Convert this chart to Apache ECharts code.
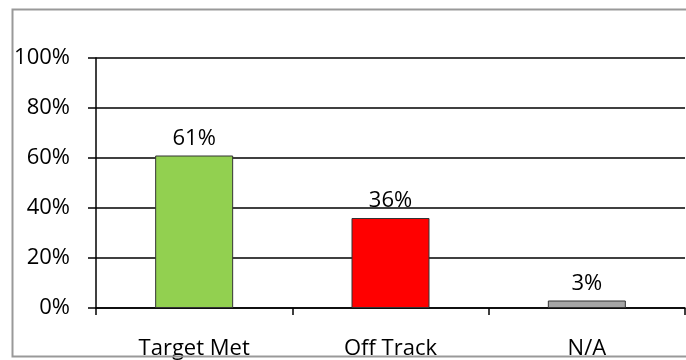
<!DOCTYPE html>
<html>
<head>
<meta charset="utf-8">
<script src="https://cdn.jsdelivr.net/npm/echarts@6/dist/echarts.min.js"></script>
<style>
  html, body { margin: 0; padding: 0; background: #fff; }
  #chart { width: 686px; height: 360px; }
</style>
</head>
<body>
<div id="chart"></div>
<script>
// Share of items by status
const categories = ['Target Met', 'Off Track', 'N/A'];
const values = [61, 36, 3];
const barColors = ['#92D050', '#FF0000', '#A6A6A6'];
const yTicks = [0, 20, 40, 60, 80, 100];

const chart = echarts.init(document.getElementById('chart'));
const font = 'Open Sans, Liberation Sans, sans-serif';
const fs = 22;

chart.setOption({
  animation: false,
  backgroundColor: '#fff',
  grid: { left: 96, right: 1, top: 58, bottom: 51 },
  xAxis: {
    type: 'category',
    data: categories,
    axisLine: { lineStyle: { color: '#000', width: 1.5 } },
    axisTick: { show: true, length: 7, lineStyle: { color: '#000', width: 1.5 } },
    axisLabel: { color: '#000', fontSize: fs, fontFamily: font, margin: 30 }
  },
  yAxis: {
    type: 'value',
    min: yTicks[0],
    max: yTicks[yTicks.length - 1],
    interval: 20,
    axisLine: { show: true, lineStyle: { color: '#000', width: 1.5 } },
    axisTick: { show: true, length: 8, lineStyle: { color: '#000', width: 1.5 } },
    splitLine: { lineStyle: { color: '#000', width: 1.5 } },
    axisLabel: { color: '#000', fontSize: fs, fontFamily: font, margin: 26, formatter: '{value}%' }
  },
  series: [{
    type: 'bar',
    barWidth: 78,
    data: values.map((v, i) => ({
      value: v,
      itemStyle: { color: barColors[i], borderColor: '#333', borderWidth: 1 }
    })),
    label: {
      show: true,
      position: 'top',
      distance: 6,
      color: '#000',
      fontSize: fs,
      fontFamily: font,
      formatter: '{c}%'
    }
  }],
  graphic: [{
    type: 'rect',
    z: 100,
    silent: true,
    shape: { x: 12.5, y: 9.5, width: 700, height: 347 },
    style: { fill: null, stroke: '#999', lineWidth: 2 }
  }]
});
</script>
</body>
</html>
